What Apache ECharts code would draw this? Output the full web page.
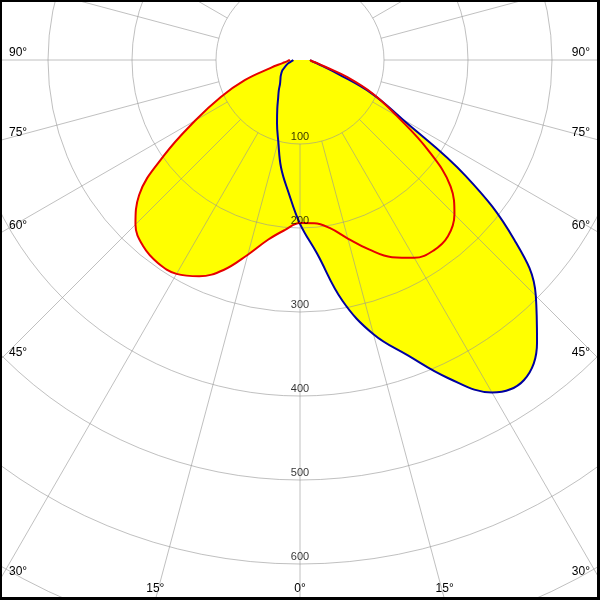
<!DOCTYPE html>
<html><head><meta charset="utf-8">
<script src="https://cdn.jsdelivr.net/npm/echarts@6/dist/echarts.min.js"></script>
<style>html,body{margin:0;padding:0;background:#fff}#c{width:600px;height:600px}</style>
</head><body><div id="c"></div>
<script>
// Light angle in degrees: 0 = straight down, negative = left, positive = right
const angles = [-90,-85,-80,-75,-70,-65,-60,-55,-50,-45,-40,-35,-30,-25,-20,-15,-10,-5,0,
                5,10,15,20,25,30,35,40,45,50,55,60,65,70,75,80,85,90];
// Red curve (C0-C180 plane)
const redValues = [12,15,21,36,70,104,144,197,250,277,290,295,294,284,266,240,217,203,194,
                   195,203,220,240,259,272,277,274,260,234,185,133,97,60,31,20,14,12];
// Blue curve (C90-C270 plane)
const blueValues = [8,9,11,14,17,20,24,27,30,33,37,44,52,64,80,100,130,158,195,
                    231,291,338,374,418,457,465,439,397,333,241,140,94,48,28,19,14,12];
const radiusTicks = [100,200,300,400,500,600];
const angleTickLabels = [-90,-75,-60,-45,-30,-15,0,15,30,45,60,75,90];

const W = 600, H = 600, CX = 300, CY = 60, UNIT = 0.84, RMIN_GRID = 100, RMAX = 800;
const FONT = 'Liberation Sans, Arial, sans-serif';
const gridColor = 'rgba(150,150,150,0.6)';

const chart = echarts.init(document.getElementById('c'), null, {renderer: 'canvas'});

const graphics = [];
angleTickLabels.forEach(function (a) {
  const rad = a * Math.PI / 180;
  const s = Math.sin(rad), c = Math.cos(rad);
  const tX = Math.abs(s) < 1e-9 ? Infinity : (s < 0 ? -CX / s : (W - CX) / s);
  const tY = c > 1e-9 ? (H - CY) / c : Infinity;
  const txt = Math.abs(a) + '°';
  if (tX <= tY) {
    const y = CY + c * tX;
    graphics.push({type: 'text', silent: true, z: 20,
      style: {text: txt, x: s < 0 ? 9 : 590, y: y - 7.5, textAlign: s < 0 ? 'left' : 'right',
              textVerticalAlign: 'middle', fill: '#000', font: '12px ' + FONT}});
  } else {
    const x = CX + s * tY;
    graphics.push({type: 'text', silent: true, z: 20,
      style: {text: txt, x: x, y: 588.5, textAlign: 'center',
              textVerticalAlign: 'middle', fill: '#000', font: '12px ' + FONT}});
  }
});
// frame
graphics.push({type: 'rect', silent: true, z: 30, shape: {x: 0, y: 0, width: W, height: 2}, style: {fill: '#000'}});
graphics.push({type: 'rect', silent: true, z: 30, shape: {x: 0, y: 0, width: 2, height: H}, style: {fill: '#000'}});
graphics.push({type: 'rect', silent: true, z: 30, shape: {x: W - 3, y: 0, width: 3, height: H}, style: {fill: '#000'}});
graphics.push({type: 'rect', silent: true, z: 30, shape: {x: 0, y: H - 3, width: W, height: 3}, style: {fill: '#000'}});

function pts(vals) { return angles.map(function (a, i) { return [vals[i], a]; }); }

const option = {
  animation: false,
  backgroundColor: '#fff',
  polar: [
    {center: [CX, CY], radius: [RMIN_GRID * UNIT, RMAX * UNIT]},
    {center: [CX, CY], radius: [0, RMAX * UNIT]}
  ],
  angleAxis: [
    {polarIndex: 0, type: 'value', min: 0, max: 360, interval: 15, startAngle: 270, clockwise: false, z: 5,
     axisLine: {show: false}, axisTick: {show: false}, axisLabel: {show: false},
     splitLine: {show: true, lineStyle: {color: gridColor, width: 1}}},
    {polarIndex: 1, type: 'value', min: -180, max: 180, startAngle: 90, clockwise: false, show: false}
  ],
  radiusAxis: [
    {polarIndex: 0, type: 'value', min: RMIN_GRID, max: RMAX, interval: 100, z: 5,
     axisLine: {show: false}, axisTick: {show: false}, axisLabel: {show: false},
     splitLine: {show: true, lineStyle: {color: gridColor, width: 1}}},
    {polarIndex: 1, type: 'value', min: 0, max: RMAX, show: false}
  ],
  series: [
    {type: 'line', coordinateSystem: 'polar', polarIndex: 1, data: pts(blueValues), smooth: 0.4,
     showSymbol: false, z: 1, silent: true, lineStyle: {width: 0}, areaStyle: {color: '#ffff00', opacity: 1}},
    {type: 'line', coordinateSystem: 'polar', polarIndex: 1, data: pts(redValues), smooth: 0.4,
     showSymbol: false, z: 1, silent: true, lineStyle: {width: 0}, areaStyle: {color: '#ffff00', opacity: 1}},
    {type: 'line', coordinateSystem: 'polar', polarIndex: 1, data: pts(blueValues), smooth: 0.4,
     showSymbol: false, z: 10, silent: true, lineStyle: {width: 2, color: '#0000a0'}},
    {type: 'line', coordinateSystem: 'polar', polarIndex: 1, data: pts(redValues), smooth: 0.4,
     showSymbol: false, z: 11, silent: true, lineStyle: {width: 2, color: '#e60000'}},
    {type: 'scatter', coordinateSystem: 'polar', polarIndex: 1, z: 12, silent: true,
     data: radiusTicks.map(function (r) { return [r, 0]; }),
     symbolSize: 1, itemStyle: {color: 'rgba(0,0,0,0)'},
     label: {show: true, position: 'top', distance: 1, color: '#000', fontSize: 11, fontFamily: FONT,
             formatter: function (p) { return String(p.value[0]); }}}
  ],
  graphic: graphics
};
chart.setOption(option);
</script>
</body></html>
